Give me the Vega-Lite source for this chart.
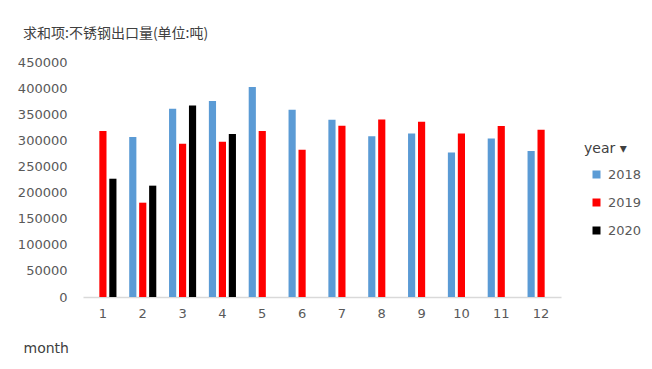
{
  "$schema": "https://vega.github.io/schema/vega-lite/v6.json",
  "width": 478,
  "height": 235,
  "autosize": {"type": "none"},
  "padding": {"left": 83, "top": 62, "right": 91, "bottom": 72},
  "background": "white",
  "title": {
    "text": "求和项:不锈钢出口量(单位:吨)",
    "anchor": "start",
    "frame": "group",
    "dx": -60,
    "offset": 15,
    "font": "Noto Sans CJK SC",
    "fontSize": 14,
    "fontWeight": "normal",
    "color": "#404040"
  },
  "data": {
    "values": [
      {"month": "1", "year": "2019", "value": 318000},
      {"month": "1", "year": "2020", "value": 226500},
      {"month": "2", "year": "2018", "value": 306400},
      {"month": "2", "year": "2019", "value": 180600},
      {"month": "2", "year": "2020", "value": 213200},
      {"month": "3", "year": "2018", "value": 360600},
      {"month": "3", "year": "2019", "value": 293600},
      {"month": "3", "year": "2020", "value": 366900},
      {"month": "4", "year": "2018", "value": 375300},
      {"month": "4", "year": "2019", "value": 297400},
      {"month": "4", "year": "2020", "value": 312100},
      {"month": "5", "year": "2018", "value": 402200},
      {"month": "5", "year": "2019", "value": 317900},
      {"month": "6", "year": "2018", "value": 358700},
      {"month": "6", "year": "2019", "value": 282100},
      {"month": "7", "year": "2018", "value": 339500},
      {"month": "7", "year": "2019", "value": 328000},
      {"month": "8", "year": "2018", "value": 307600},
      {"month": "8", "year": "2019", "value": 340100},
      {"month": "9", "year": "2018", "value": 313300},
      {"month": "9", "year": "2019", "value": 335700},
      {"month": "10", "year": "2018", "value": 276900},
      {"month": "10", "year": "2019", "value": 313300},
      {"month": "11", "year": "2018", "value": 303700},
      {"month": "11", "year": "2019", "value": 327500},
      {"month": "12", "year": "2018", "value": 279600},
      {"month": "12", "year": "2019", "value": 320400}
    ]
  },
  "mark": {"type": "bar"},
  "encoding": {
    "x": {
      "field": "month",
      "type": "nominal",
      "sort": ["1","2","3","4","5","6","7","8","9","10","11","12"],
      "scale": {"paddingInner": 0.32, "paddingOuter": 0.16},
      "axis": {
        "title": "month",
        "labelAngle": 0,
        "ticks": false,
        "domainColor": "#d9d9d9",
        "domainWidth": 1.5,
        "labelPadding": 10,
        "labelFont": "DejaVu Sans",
        "labelFontSize": 13,
        "labelColor": "#595959",
        "titleFont": "DejaVu Sans",
        "titleFontSize": 14,
        "titleFontWeight": "normal",
        "titleColor": "#404040",
        "titleAnchor": "start",
        "titleAlign": "left",
        "titleBaseline": "middle",
        "titleX": -60,
        "titleY": 51
      }
    },
    "xOffset": {
      "field": "year",
      "type": "nominal",
      "scale": {"domain": ["2018", "2019", "2020"], "paddingInner": 0.28, "paddingOuter": 0}
    },
    "y": {
      "field": "value",
      "type": "quantitative",
      "scale": {"domain": [0, 450000], "nice": false},
      "axis": {
        "title": null,
        "values": [0, 50000, 100000, 150000, 200000, 250000, 300000, 350000, 400000, 450000],
        "format": "d",
        "grid": false,
        "domain": false,
        "ticks": false,
        "labelPadding": 16,
        "labelFont": "DejaVu Sans",
        "labelFontSize": 13,
        "labelColor": "#595959"
      }
    },
    "color": {
      "field": "year",
      "type": "nominal",
      "scale": {"domain": ["2018", "2019", "2020"], "range": ["#5B9BD5", "#FF0000", "#000000"]},
      "legend": {
        "title": "year  ▾",
        "orient": "none",
        "legendX": 501,
        "legendY": 80,
        "symbolType": "square",
        "symbolSize": 64,
        "symbolStrokeWidth": 0,
        "symbolOffset": 6,
        "labelOffset": 5,
        "rowPadding": 14,
        "titlePadding": 12,
        "labelFont": "DejaVu Sans",
        "labelFontSize": 13,
        "labelColor": "#595959",
        "titleFont": "DejaVu Sans",
        "titleFontSize": 14,
        "titleFontWeight": "normal",
        "titleColor": "#404040"
      }
    }
  },
  "config": {"view": {"stroke": null}}
}
